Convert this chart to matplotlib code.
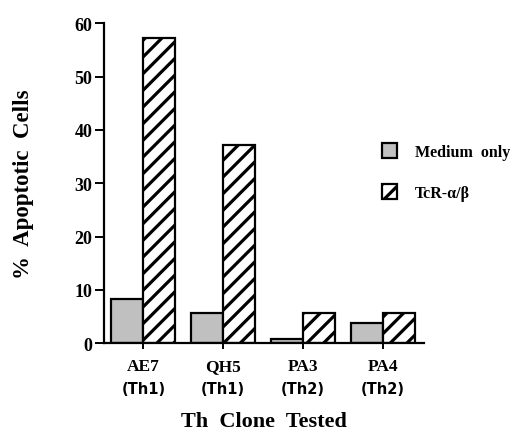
import matplotlib
matplotlib.use("Agg")
import matplotlib.pyplot as plt
import numpy as np

clones = ["AE7", "QH5", "PA3", "PA4"]
subtypes = ["(Th1)", "(Th1)", "(Th2)", "(Th2)"]
medium_only = [8.2, 5.6, 0.8, 3.7]
tcr_ab = [57.2, 37.2, 5.7, 5.7]
yticks = [0, 10, 20, 30, 40, 50, 60]

plt.rcParams['hatch.linewidth'] = 2.3
serif = ['Liberation Serif', 'DejaVu Serif']

fig = plt.figure(figsize=(5.26, 4.35), dpi=100)
ax = fig.add_axes([0.198, 0.209, 0.608, 0.735])

x = np.arange(len(clones))
w = 0.4
b1 = ax.bar(x - w/2, medium_only, w, color='#c0c0c0', edgecolor='black', linewidth=1.6, label='Medium  only')
b2 = ax.bar(x + w/2, tcr_ab, w, color='white', edgecolor='black', linewidth=1.6, hatch='//', label='TcR-α/β')

ax.set_xlim(-0.49, 3.51)
ax.set_ylim(0, 60)
ax.spines['top'].set_visible(False)
ax.spines['right'].set_visible(False)
ax.spines['left'].set_linewidth(1.6)
ax.spines['bottom'].set_linewidth(1.6)
ax.set_yticks(yticks)
ax.set_yticklabels([str(v) for v in yticks], fontfamily=serif, fontweight='bold', fontsize=13)
ax.tick_params(axis='y', length=6.5, width=1.4, pad=2)
ax.set_xticks(x)
ax.set_xticklabels(clones, fontfamily=serif, fontweight='bold', fontsize=12.5)
ax.tick_params(axis='x', length=4.5, width=1.4, pad=6)

for xi, s in zip(x, subtypes):
    ax.text(xi, -0.143, s, transform=ax.get_xaxis_transform(), ha='center', va='center',
            fontsize=10.5, fontweight='bold', fontfamily='DejaVu Sans')

ax.set_ylabel('%  Apoptotic  Cells', fontfamily=serif, fontweight='bold', fontsize=16.5, labelpad=0)
ax.yaxis.set_label_coords(-0.22, 0.5)
ax.set_xlabel('Th  Clone  Tested', fontfamily=serif, fontweight='bold', fontsize=16)
ax.xaxis.set_label_coords(0.5, -0.212)

leg = fig.legend(handles=[b1, b2], loc='upper left', bbox_to_anchor=(0.698, 0.703),
                 frameon=False, handlelength=1.0, handleheight=1.1, handletextpad=1.1,
                 labelspacing=1.5, prop={'family': serif, 'weight': 'bold', 'size': 11.5})

fig.savefig('out.png', dpi=100)
